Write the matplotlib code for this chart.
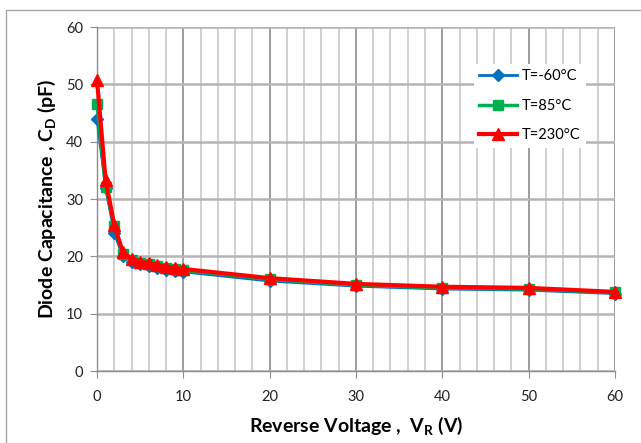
import matplotlib.pyplot as plt
import matplotlib.patches as mpatches
import numpy as np

plt.rcParams['font.family'] = ['Lato', 'DejaVu Sans']

# Reverse voltage points (V)
v_r = [0, 1, 2, 3, 4, 5, 6, 7, 8, 9, 10, 20, 30, 40, 50, 60]

# Diode capacitance (pF) at each temperature
c_m60 = [44.0, 32.0, 24.1, 20.0, 19.0, 18.6, 18.3, 18.0, 17.7, 17.5, 17.3, 15.7, 14.8, 14.3, 14.1, 13.5]
c_85 = [46.6, 32.1, 25.3, 20.4, 19.3, 18.9, 18.6, 18.3, 18.0, 17.8, 17.6, 16.0, 15.0, 14.5, 14.3, 13.7]
c_230 = [50.8, 33.3, 25.5, 20.7, 19.6, 19.1, 18.8, 18.5, 18.2, 18.0, 17.8, 16.2, 15.2, 14.7, 14.5, 13.8]

labels = ['T=-60°C', 'T=85°C', 'T=230°C']

fig = plt.figure(figsize=(6.41, 4.43), dpi=100)
ax = fig.add_axes([0.1513, 0.1625, 0.808, 0.7765])

# thin frame around the whole chart
fig.patches.append(mpatches.Rectangle((6 / 641, -0.1), 1.2, 1 - 10 / 443 + 0.1,
                                      transform=fig.transFigure, fill=False,
                                      edgecolor='#a6a6a6', lw=1.0))

ax.plot(v_r, c_m60, color='#0070C0', lw=2, marker='D', ms=6, label=labels[0], zorder=3, clip_on=False)
ax.plot(v_r, c_85, color='#00B050', lw=2.5, marker='s', ms=7.5, label=labels[1], zorder=4, clip_on=False)
ax.plot(v_r, c_230, color='#FF0000', lw=3, marker='^', ms=9, label=labels[2], zorder=5, clip_on=False)

ax.set_xlim(0, 60)
ax.set_ylim(0, 60)
ax.set_xticks(np.arange(0, 61, 10))
ax.set_xticks(np.arange(0, 61, 2), minor=True)
ax.set_yticks(np.arange(0, 61, 10))

ax.grid(which='major', axis='x', color='#8c8c8c', lw=1.2, zorder=1)
ax.grid(which='minor', axis='x', color='#c8c8c8', lw=1.2, zorder=1)
ax.grid(which='major', axis='y', color='#b4b4b4', lw=1.8, zorder=1)
ax.set_axisbelow(True)

for side in ['top', 'right']:
    ax.spines[side].set_visible(False)
for side in ['left', 'bottom']:
    ax.spines[side].set_color('#8c8c8c')
    ax.spines[side].set_linewidth(1.0)

ax.tick_params(axis='both', which='major', direction='out', length=5, color='#8c8c8c',
               labelsize=10.5, labelcolor='#222222', pad=5)
ax.tick_params(axis='x', which='minor', length=0)
ax.tick_params(axis='x', pad=9)

ax.set_xlabel('Reverse Voltage ,  V$_\\mathregular{R}$ (V)', fontsize=14, fontweight='bold', labelpad=7)
ax.set_ylabel('Diode Capacitance , C$_\\mathregular{D}$ (pF)', fontsize=14, fontweight='bold', labelpad=6)

leg = ax.legend(loc='upper left', bbox_to_anchor=(0.713, 0.915), frameon=True, fancybox=False,
                edgecolor='none', facecolor='white', framealpha=1, fontsize=10.5,
                handlelength=2.6, labelspacing=1.05, handletextpad=0.3, borderpad=0.4)
leg.set_zorder(10)

fig.savefig('out.png', dpi=100)
